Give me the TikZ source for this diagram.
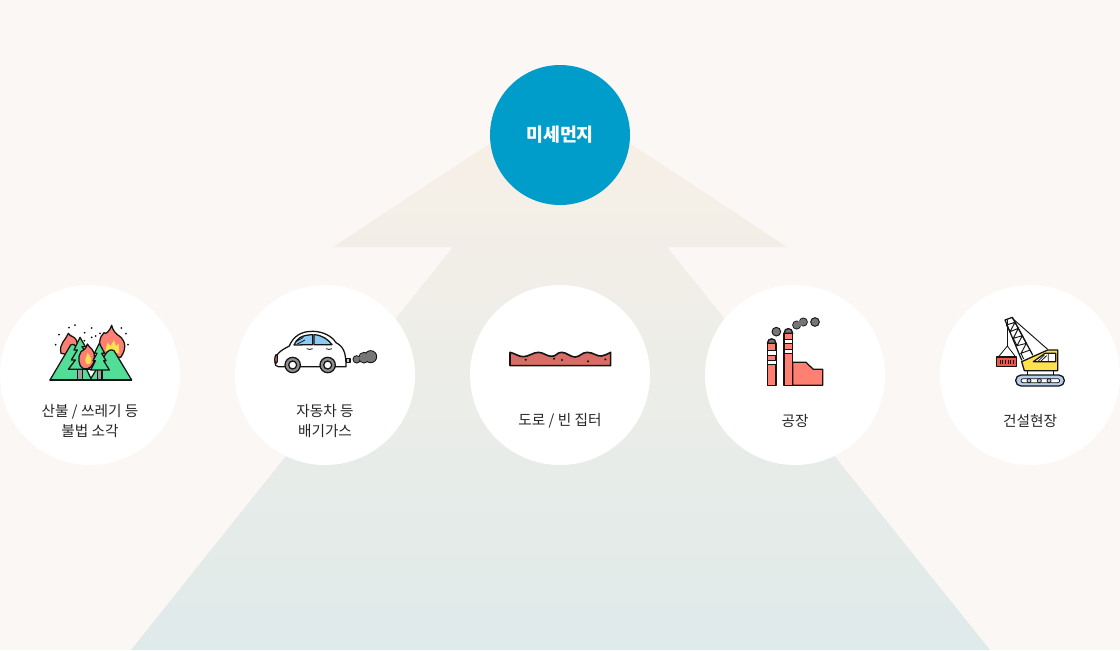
\documentclass[tikz,border=0pt]{standalone}
\usepackage{fontspec}
\setmainfont{Noto Sans CJK KR}
\definecolor{pagebg}{HTML}{FBF7F4}
\definecolor{arrowtop}{HTML}{F9F0E6}
\definecolor{arrowmid}{HTML}{F0EEE8}
\definecolor{arrowbot}{HTML}{DFEAEA}
\definecolor{mainblue}{HTML}{009DCB}
\definecolor{flame}{HTML}{FF7F73}
\definecolor{flameyel}{HTML}{FFE14D}
\definecolor{forest}{HTML}{52DE97}
\definecolor{ink}{HTML}{141414}
\definecolor{smoke}{HTML}{767676}
\definecolor{glass}{HTML}{8CCBF2}
\definecolor{road}{HTML}{D96C66}
\definecolor{boxred}{HTML}{E8594F}
\definecolor{track}{HTML}{B9CDEF}
\tikzset{
  bubble/.style={circle,fill=white,minimum size=135pt,inner sep=0pt},
  mainbubble/.style={circle,fill=mainblue,minimum size=105pt,inner sep=0pt,text=white,font=\fontsize{13.8}{18}\selectfont\bfseries},
  caption/.style={font=\fontsize{11}{15}\selectfont,text=black!85,align=center,inner sep=0pt},
  zoomat/.style 2 args={shift={(#1,#2)},x=.25pt,y=-.25pt},
  icon/.style={draw=ink,line width=.95pt,line join=round,line cap=round},
}
\begin{document}
\begin{tikzpicture}[x=.75pt,y=-.75pt]
\useasboundingbox (0,0) rectangle (1120,650);
\fill[pagebg] (0,0) rectangle (1120,650);
\shade[top color=arrowtop,middle color=arrowmid,bottom color=arrowbot]
  (560,97) -- (787,247) -- (667,247) -- (990,650) -- (131,650) -- (453,247) -- (333,247) -- cycle;
\node[mainbubble] (main) at (560,135) {미세먼지};
\node[bubble] (b1) at (90,375) {};
\node[bubble] (b2) at (325,375) {};
\node[bubble] (b3) at (560,375) {};
\node[bubble] (b4) at (795,375) {};
\node[bubble] (b5) at (1030,375) {};
\node[caption] (t1) at (90,420.5) {산불 / 쓰레기 등\\불법 소각};
\node[caption] (t2) at (325,420.5) {자동차 등\\배기가스};
\node[caption] (t3) at (560,420.5) {도로 / 빈 집터};
\node[caption] (t4) at (795,420.5) {공장};
\node[caption] (t5) at (1030,420.5) {건설현장};

% forest fire
\begin{scope}[zoomat={0}{300}]
\path[icon,fill=flame] (183,160) .. controls (176,130) and (198,120) .. (205,100) .. controls (212,112) and (222,106) .. (230,122) -- (240,170) -- cycle;
\path[icon,fill=flame] (308,170) .. controls (293,135) and (298,110) .. (312,98) .. controls (316,106) and (330,92) .. (335,76) .. controls (338,92) and (350,104) .. (358,108) .. controls (380,125) and (378,150) .. (362,172) -- cycle;
\path[draw=none,fill=flameyel] (316,152) -- (322,128) -- (332,138) -- (342,120) -- (348,138) -- (356,130) -- (358,160) -- cycle;
\path[icon,fill=forest] (150,240) -- (212,135) .. controls (220,130) and (226,135) .. (230,145) -- (275,240) -- cycle;
\path[icon,fill=forest] (395,240) -- (342,152) .. controls (332,146) and (322,152) .. (315,165) -- (270,240) -- cycle;
\draw[icon] (150,240) -- (395,240);
\path[icon,fill=smoke!70] (233,208) rectangle (247,240);
\path[icon,fill=smoke!70] (292,208) rectangle (306,240);
\path[icon,fill=forest] (240,112) -- (256,140) -- (246,140) -- (262,165) -- (250,165) -- (270,208) -- (205,208) -- (226,180) -- (214,180) -- (232,150) -- (222,150) -- cycle;
\path[icon,fill=flame] (262,132) .. controls (268,145) and (285,145) .. (283,175) .. controls (282,200) and (265,210) .. (250,206) .. controls (235,200) and (232,170) .. (243,155) .. controls (250,150) and (258,148) .. (262,132) -- cycle;
\path[fill=flameyel] (263,158) .. controls (272,172) and (278,180) .. (270,190) .. controls (262,198) and (255,190) .. (256,178) -- cycle;
\path[icon,fill=forest] (298,130) -- (314,160) -- (305,160) -- (318,182) -- (311,182) -- (328,210) -- (272,210) -- (286,182) -- (279,182) -- (291,160) -- (283,160) -- cycle;
\foreach \px/\py in {207/83,225/75,177/104,167/134,254/98,275/84,253/122,275/112,287/108,300/100,364/84,378/101,384/134}
  \fill[ink] (\px,\py) circle[radius=3];
\end{scope}

% car
\begin{scope}[zoomat={260}{310}]
\foreach \px/\py/\pr in {290/148/11,312/143/16,332/140/18}
  \path[fill=smoke,draw=ink,line width=.7pt] (\px,\py) circle[radius=\pr];
\foreach \px/\py/\pr in {290/148/9,312/143/14,332/140/16}
  \fill[smoke] (\px,\py) circle[radius=\pr];
\path[icon,fill=white!80!black] (258,145) rectangle (270,157);
\path[icon,fill=white] (45,155) .. controls (44,135) and (60,122) .. (88,108) .. controls (100,78) and (125,63) .. (160,64) .. controls (190,65) and (215,78) .. (228,98) .. controls (250,110) and (258,125) .. (258,170) -- (55,170) .. controls (48,170) and (45,165) .. (45,155) -- cycle;
\path[icon,fill=glass] (102,105) .. controls (110,85) and (125,75) .. (158,74) -- (158,104) -- cycle;
\path[icon,fill=glass] (162,74) .. controls (185,75) and (205,88) .. (216,104) -- (162,104) -- cycle;
\draw[ink,line width=.6pt] (108,95) -- (130,82) (112,102) -- (135,90);
\draw[ink,line width=.6pt] (140,116) .. controls (146,119) and (152,119) .. (158,116) (198,116) .. controls (204,119) and (210,119) .. (216,116);
\path[icon,fill=flame] (48,134) .. controls (43,142) and (43,155) .. (48,160) -- (52,155) -- (52,136) -- cycle;
\foreach \px in {98,203} {
  \path[icon,fill=smoke!80] (\px,165) circle[radius=23];
  \path[icon,fill=white] (\px,165) circle[radius=12];
}
\end{scope}

% road
\begin{scope}[zoomat={500}{335}]
\path[icon,fill=road,line width=1.2pt] (30,52) .. controls (45,55) and (55,65) .. (70,65) .. controls (85,65) and (100,52) .. (115,52) .. controls (130,52) and (140,64) .. (155,64) .. controls (170,64) and (170,52) .. (185,52) .. controls (200,52) and (210,66) .. (225,66) .. controls (240,66) and (245,52) .. (262,52) .. controls (280,52) and (290,65) .. (305,63) .. controls (315,62) and (322,56) .. (332,52) -- (332,92) -- (30,92) -- cycle;
\foreach \px/\py in {77/74,162/71,186/75,264/79,316/73}
  \fill[ink] (\px,\py) circle[radius=3.5];
\end{scope}

% factory
\begin{scope}[zoomat={750}{310}]
\path[icon,fill=flame] (128,157) -- (168,157) -- (190,178) -- (218,178) -- (218,226) -- (128,226) -- cycle;
\path[icon,fill=flame] (52,100) rectangle (78,226);
\path[icon,fill=flame] (102,70) rectangle (128,226);
\path[icon,fill=smoke] (52,100) .. controls (52,82) and (78,82) .. (78,100) -- cycle;
\path[icon,fill=smoke] (102,70) .. controls (102,51) and (128,51) .. (128,70) -- cycle;
\foreach \py in {122,150} \path[draw=ink,line width=.6pt,fill=white] (52,\py) rectangle (78,\py+13);
\foreach \py in {88,118} \path[draw=ink,line width=.6pt,fill=white] (102,\py) rectangle (128,\py+13);
\foreach \px/\py/\pr in {79/65/13,195/36/13,160/36/12,140/45/12}
  \path[fill=smoke,draw=ink,line width=.7pt] (\px,\py) circle[radius=\pr];
\fill[smoke] (140,45) circle[radius=10.5] (160,36) circle[radius=10.5] (150,40) circle[radius=9];
\end{scope}

% crane
\begin{scope}[zoomat={985}{310}]
\draw[icon,line width=.6pt] (67,30) -- (67,108);
\draw[icon,line width=.6pt] (40,141) -- (67,108) -- (92,141);
\path[icon,fill=boxred] (35,141) rectangle (95,170);
\foreach \px in {45,53,61,69,77,85} \draw[ink,line width=.6pt] (\px,150) -- (\px,162);
\draw[icon,line width=.7pt] (82,25) -- (188,118);
\draw[icon] (60,30) -- (82,22) -- (143,135) (60,30) -- (110,150);
\draw[ink,line width=.7pt] (64,45) -- (90,37) -- (75,65) -- (100,55) -- (85,85) -- (112,77) -- (96,107) -- (124,100) -- (108,130) -- (135,120);
\draw[ink,line width=.7pt] (64,45) -- (75,65) (90,37) -- (100,55) -- (112,77) (85,85) -- (96,107) (112,77) -- (124,100) (108,130) -- (116,147);
\path[icon,fill=flameyel] (110,155) -- (188,120) -- (218,120) -- (218,182) -- (118,182) -- cycle;
\path[icon,fill=white] (145,155) -- (180,130) -- (212,130) -- (212,155) -- cycle;
\draw[ink,line width=.6pt] (190,130) -- (190,155) (160,153) -- (178,135) (168,153) -- (185,137);
\draw[icon] (127,182) -- (127,195) (206,182) -- (206,195);
\path[icon,fill=track,rounded corners=4pt] (92,195) rectangle (238,228);
\path[draw=ink,line width=.6pt,fill=white,rounded corners=1.5pt] (108,206) rectangle (224,218);
\foreach \px in {132,163,192}
  \path[draw=ink,line width=.6pt,fill=track] (\px,212) circle[radius=6];
\end{scope}
\end{tikzpicture}
\end{document}
